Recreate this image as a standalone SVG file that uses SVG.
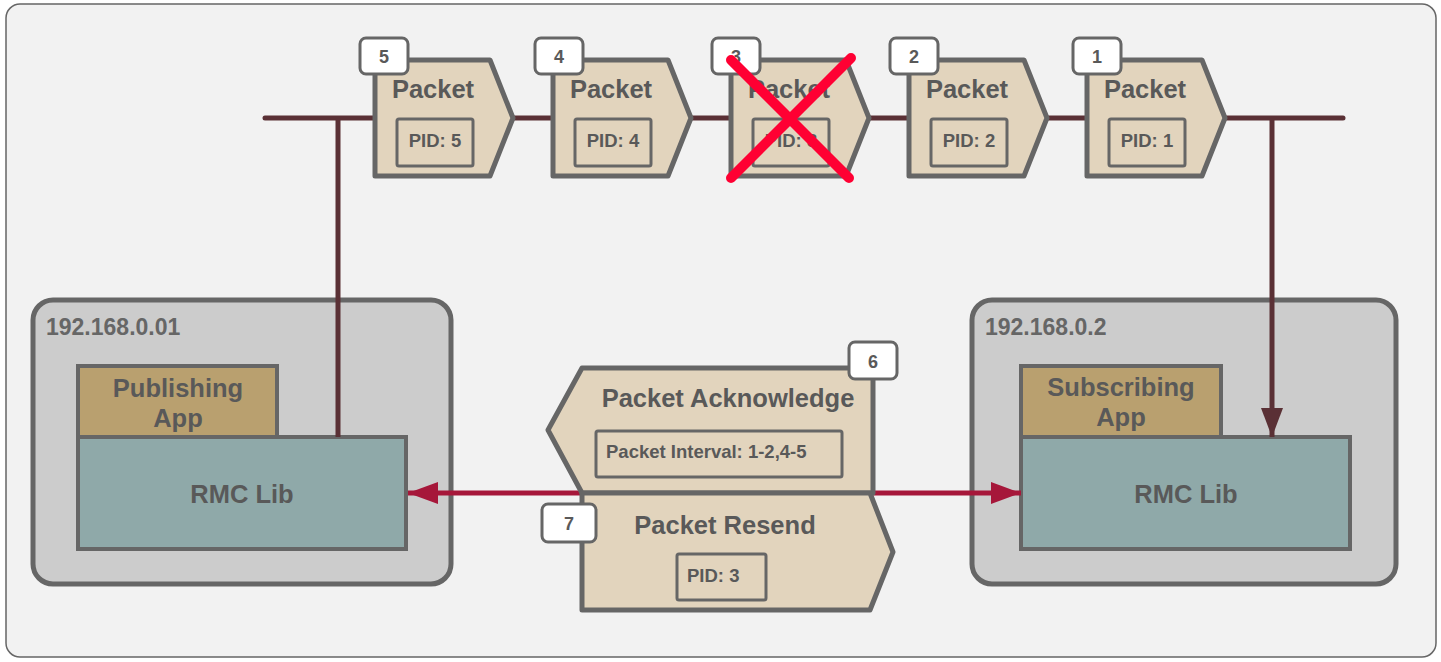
<svg xmlns="http://www.w3.org/2000/svg" width="1441" height="662" viewBox="0 0 1441 662">
<defs>
<style>
text{font-family:"Liberation Sans",Arial,sans-serif;font-weight:bold;fill:#595959}
.bg{fill:#f2f2f2;stroke:#666;stroke-width:1.5}
.host{fill:#cccccc;stroke:#666;stroke-width:5}
.app{fill:#b9a06f;stroke:#666;stroke-width:4}
.lib{fill:#8fa9a9;stroke:#666;stroke-width:4}
.pkt{fill:#e2d4bd;stroke:#666;stroke-width:5;stroke-linejoin:round}
.inner{fill:none;stroke:#666;stroke-width:3}
.badge{fill:#fff;stroke:#666;stroke-width:3}
.wire{fill:none;stroke:#5a3035;stroke-width:5;stroke-linecap:round}
.net{fill:none;stroke:#a6173a;stroke-width:5}
.big{font-size:25.5px}
.ip{font-size:23px;fill:#666}
.small{font-size:18.5px}
.num{font-size:18px;fill:#595959}
.x{stroke:#ff0033;stroke-width:10;stroke-linecap:round}
</style>
<marker id="ahMaroon" viewBox="0 0 29 22" refX="29" refY="11" markerWidth="29" markerHeight="22" markerUnits="userSpaceOnUse" orient="auto"><path d="M0,0 L29,11 L0,22 Z" fill="#5a3035"/></marker>
<marker id="ahRed" viewBox="0 0 30 22" refX="30" refY="11" markerWidth="30" markerHeight="22" markerUnits="userSpaceOnUse" orient="auto-start-reverse"><path d="M0,0 L30,11 L0,22 Z" fill="#a6173a"/></marker>
</defs>
<rect class="bg" x="6" y="4" width="1430" height="653" rx="14"/>

<g id="host-publisher">
<rect class="host" x="33" y="300" width="418" height="284" rx="20"/>
<text class="ip" x="46" y="335">192.168.0.01</text>
</g>
<g id="publishing-app">
<rect class="app" x="78" y="366" width="199" height="71"/>
<text class="big" x="178" y="397" text-anchor="middle">Publishing</text>
<text class="big" x="178" y="427" text-anchor="middle">App</text>
</g>
<g id="rmc-lib-pub">
<rect class="lib" x="78" y="437" width="328" height="112"/>
<text class="big" x="242" y="503" text-anchor="middle">RMC Lib</text>
</g>

<g id="host-subscriber">
<rect class="host" x="972" y="300" width="424" height="284" rx="20"/>
<text class="ip" x="985" y="335">192.168.0.2</text>
</g>
<g id="subscribing-app">
<rect class="app" x="1021" y="366" width="200" height="71"/>
<text class="big" x="1121" y="396" text-anchor="middle">Subscribing</text>
<text class="big" x="1121" y="426" text-anchor="middle">App</text>
</g>
<g id="rmc-lib-sub">
<rect class="lib" x="1021" y="437" width="329" height="112"/>
<text class="big" x="1186" y="503" text-anchor="middle">RMC Lib</text>
</g>

<g id="connectors">
<path class="wire" d="M265,118 H1343"/>
<path class="wire" d="M338,118 V437" style="stroke-linecap:butt"/>
<path class="wire" d="M1272,118 V437" style="stroke-linecap:butt" marker-end="url(#ahMaroon)"/>
<path class="net" d="M408,493 H1021" marker-start="url(#ahRed)" marker-end="url(#ahRed)"/>
</g>

<g id="packet-5">
<path class="pkt" d="M375,60 H490 L513,118 L490,176 H375 Z"/>
<text class="big" x="433" y="98" text-anchor="middle">Packet</text>
<rect class="inner" x="397" y="119" width="76" height="47" rx="2"/>
<text class="small" x="435" y="147" text-anchor="middle">PID: 5</text>
<rect class="badge" x="360" y="38" width="48" height="36" rx="6"/>
<text class="num" x="384" y="63" text-anchor="middle">5</text>
</g>
<g id="packet-4">
<path class="pkt" d="M553,60 H668 L691,118 L668,176 H553 Z"/>
<text class="big" x="611" y="98" text-anchor="middle">Packet</text>
<rect class="inner" x="575" y="119" width="76" height="47" rx="2"/>
<text class="small" x="613" y="147" text-anchor="middle">PID: 4</text>
<rect class="badge" x="535" y="38" width="48" height="36" rx="6"/>
<text class="num" x="559" y="63" text-anchor="middle">4</text>
</g>
<g id="packet-3">
<path class="pkt" d="M731,60 H846 L869,118 L846,176 H731 Z"/>
<text class="big" x="789" y="98" text-anchor="middle">Packet</text>
<rect class="inner" x="753" y="119" width="76" height="47" rx="2"/>
<text class="small" x="791" y="147" text-anchor="middle">PID: 3</text>
<rect class="badge" x="712" y="38" width="48" height="36" rx="6"/>
<text class="num" x="736" y="63" text-anchor="middle">3</text>
<path class="x" d="M731,60 L849,178 M731,178 L851,58"/>
</g>
<g id="packet-2">
<path class="pkt" d="M909,60 H1024 L1047,118 L1024,176 H909 Z"/>
<text class="big" x="967" y="98" text-anchor="middle">Packet</text>
<rect class="inner" x="931" y="119" width="76" height="47" rx="2"/>
<text class="small" x="969" y="147" text-anchor="middle">PID: 2</text>
<rect class="badge" x="890" y="38" width="48" height="36" rx="6"/>
<text class="num" x="914" y="63" text-anchor="middle">2</text>
</g>
<g id="packet-1">
<path class="pkt" d="M1087,60 H1202 L1225,118 L1202,176 H1087 Z"/>
<text class="big" x="1145" y="98" text-anchor="middle">Packet</text>
<rect class="inner" x="1109" y="119" width="76" height="47" rx="2"/>
<text class="small" x="1147" y="147" text-anchor="middle">PID: 1</text>
<rect class="badge" x="1073" y="38" width="48" height="36" rx="6"/>
<text class="num" x="1097" y="63" text-anchor="middle">1</text>
</g>

<g id="packet-acknowledge">
<path class="pkt" d="M582,368 H873 V493 H582 L548,430 Z"/>
<text class="big" x="728" y="407" text-anchor="middle">Packet Acknowledge</text>
<rect class="inner" x="596" y="431" width="246" height="46" rx="2"/>
<text class="small" x="606" y="458">Packet Interval: 1-2,4-5</text>
<rect class="badge" x="849" y="342" width="48" height="37" rx="6"/>
<text class="num" x="873" y="368" text-anchor="middle">6</text>
</g>
<g id="packet-resend">
<path class="pkt" d="M582,493 H870 L893,552 L870,610 H582 Z"/>
<text class="big" x="725" y="534" text-anchor="middle">Packet Resend</text>
<rect class="inner" x="677" y="554" width="89" height="46" rx="2"/>
<text class="small" x="687" y="582">PID: 3</text>
<rect class="badge" x="542" y="504" width="54" height="38" rx="6"/>
<text class="num" x="569" y="530" text-anchor="middle">7</text>
</g>
</svg>
